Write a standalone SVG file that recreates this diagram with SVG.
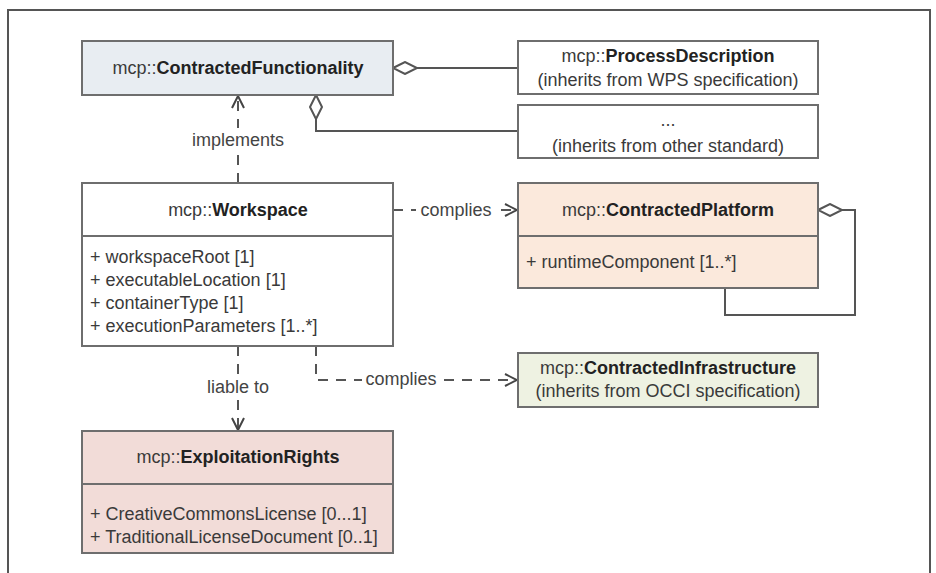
<svg xmlns="http://www.w3.org/2000/svg" width="936" height="573" viewBox="0 0 936 573">
<defs>
<style>
.box{stroke:#6e6e6e;stroke-width:2}
.t{font-family:"Liberation Sans",Arial,sans-serif;font-size:18px;fill:#3a3a3a}
.c{text-anchor:middle}
.b{font-weight:bold;fill:#222}
.lbl{font-family:"Liberation Sans",Arial,sans-serif;font-size:18px;fill:#444;text-anchor:middle}
.ln{fill:none;stroke:#555;stroke-width:2}
.dash{fill:none;stroke:#555;stroke-width:2;stroke-dasharray:10,8}
</style>
<marker id="open" viewBox="0 0 14 14" refX="13" refY="7" markerWidth="14" markerHeight="14" markerUnits="userSpaceOnUse" orient="auto">
<path d="M1,1 L13,7 L1,13" fill="none" stroke="#444" stroke-width="2"/>
</marker>
<marker id="dia" viewBox="0 0 28 14" refX="1" refY="7" markerWidth="28" markerHeight="14" markerUnits="userSpaceOnUse" orient="auto">
<path d="M1,7 L13,1 L25,7 L13,13 Z" fill="#fff" stroke="#555" stroke-width="2"/>
</marker>
</defs>
<rect width="936" height="573" fill="#fff"/>
<path d="M8,573 L8,10 L930,10 L930,573" fill="none" stroke="#555" stroke-width="2"/>

<g id="connectors">
<path class="ln" d="M393,68 L518,68" marker-start="url(#dia)"/>
<path class="ln" d="M316,95 L316,131 L518,131" marker-start="url(#dia)"/>
<path class="dash" d="M238,183 L238,96" marker-end="url(#open)"/>
<path class="dash" d="M393,210 L517,210" marker-end="url(#open)"/>
<path class="ln" d="M818,210 L855,210 L855,315 L725,315 L725,288" marker-start="url(#dia)"/>
<path class="dash" d="M238,346 L238,430" marker-end="url(#open)"/>
<path class="dash" d="M316,346 L316,380 L517,380" marker-end="url(#open)"/>
<rect x="188" y="128" width="100" height="24" fill="#fff"/>
<text class="lbl" x="238" y="146">implements</text>
<rect x="416" y="199" width="80" height="22" fill="#fff"/>
<text class="lbl" x="456" y="216">complies</text>
<rect x="198" y="376" width="80" height="22" fill="#fff"/>
<text class="lbl" x="238" y="393">liable to</text>
<rect x="362" y="369" width="78" height="22" fill="#fff"/>
<text class="lbl" x="401" y="385">complies</text>
</g>

<g id="ContractedFunctionality">
<rect class="box" x="82" y="41" width="311" height="54" fill="#e8edf2"/>
<text class="t c" x="238" y="74">mcp::<tspan class="b">ContractedFunctionality</tspan></text>
</g>

<g id="ProcessDescription">
<rect class="box" x="518" y="41" width="300" height="53" fill="#fff"/>
<text class="t c" x="668" y="62">mcp::<tspan class="b">ProcessDescription</tspan></text>
<text class="t c" x="668" y="86">(inherits from WPS specification)</text>
</g>

<g id="OtherStandard">
<rect class="box" x="518" y="105" width="300" height="53" fill="#fff"/>
<text class="t c" x="668" y="126">...</text>
<text class="t c" x="668" y="152">(inherits from other standard)</text>
</g>

<g id="Workspace">
<rect class="box" x="82" y="183" width="311" height="163" fill="#fff"/>
<line class="box" x1="82" y1="236" x2="393" y2="236"/>
<text class="t c" x="238" y="216">mcp::<tspan class="b">Workspace</tspan></text>
<text class="t" x="90" y="263">+ workspaceRoot [1]</text>
<text class="t" x="90" y="286">+ executableLocation [1]</text>
<text class="t" x="90" y="309">+ containerType [1]</text>
<text class="t" x="90" y="332">+ executionParameters [1..*]</text>
</g>

<g id="ContractedPlatform">
<rect class="box" x="518" y="183" width="300" height="105" fill="#fbe9dc"/>
<line class="box" x1="518" y1="236" x2="818" y2="236"/>
<text class="t c" x="668" y="216">mcp::<tspan class="b">ContractedPlatform</tspan></text>
<text class="t" x="526" y="268">+ runtimeComponent [1..*]</text>
</g>

<g id="ContractedInfrastructure">
<rect class="box" x="518" y="353" width="300" height="54" fill="#eef2e2"/>
<text class="t c" x="668" y="374">mcp::<tspan class="b">ContractedInfrastructure</tspan></text>
<text class="t c" x="668" y="397">(inherits from OCCI specification)</text>
</g>

<g id="ExploitationRights">
<rect class="box" x="82" y="431" width="311" height="122" fill="#f2dcd8"/>
<line class="box" x1="82" y1="484" x2="393" y2="484"/>
<text class="t c" x="238" y="463">mcp::<tspan class="b">ExploitationRights</tspan></text>
<text class="t" x="90" y="520">+ CreativeCommonsLicense [0...1]</text>
<text class="t" x="90" y="543">+ TraditionalLicenseDocument [0..1]</text>
</g>
</svg>
